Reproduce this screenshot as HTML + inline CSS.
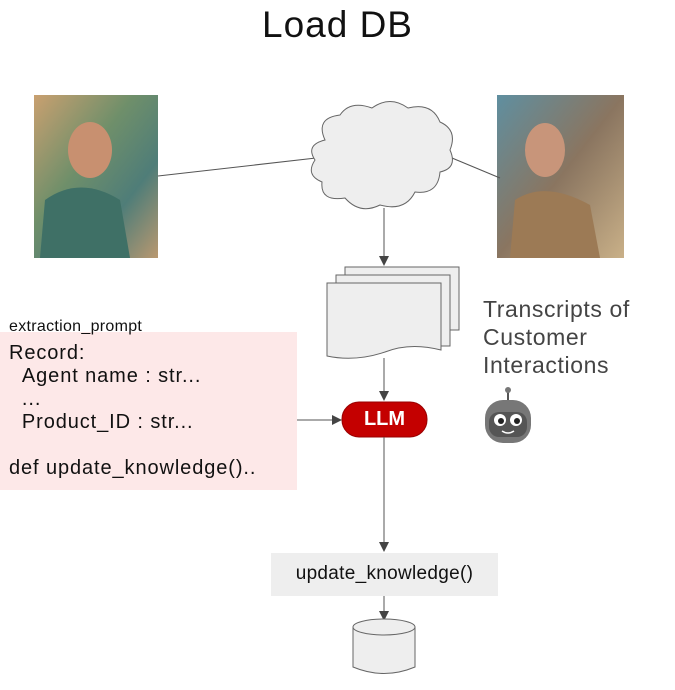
<!DOCTYPE html>
<html><head><style>
body{margin:0;width:675px;height:690px;background:#fff;font-family:"Liberation Sans",sans-serif;overflow:hidden;position:relative}
.t{position:absolute;white-space:nowrap;color:#222}
</style></head><body>
<svg width="675" height="690" style="position:absolute;left:0;top:0">
<defs>
<linearGradient id="lp" x1="0" y1="0" x2="1" y2="1"><stop offset="0" stop-color="#c9a070"/><stop offset="0.4" stop-color="#6f8f6a"/><stop offset="0.7" stop-color="#4f7d78"/><stop offset="1" stop-color="#b99870"/></linearGradient>
<linearGradient id="rp" x1="0" y1="0" x2="1" y2="1"><stop offset="0" stop-color="#5f8fa0"/><stop offset="0.5" stop-color="#8a7560"/><stop offset="1" stop-color="#c9b088"/></linearGradient>
<marker id="a" markerWidth="10" markerHeight="10" refX="9" refY="5" orient="auto" markerUnits="userSpaceOnUse"><path d="M0,0 L10,5 L0,10z" fill="#444"/></marker>
</defs>
<rect x="0" y="332" width="297" height="158" fill="#fde8e8"/>
<rect x="34" y="95" width="124" height="163" fill="url(#lp)"/>
<ellipse cx="90" cy="150" rx="22" ry="28" fill="#c89070"/>
<path d="M40 258 L45 200 Q80 175 120 200 L130 258z" fill="#3f7066"/>
<rect x="497" y="95" width="127" height="163" fill="url(#rp)"/>
<ellipse cx="545" cy="150" rx="20" ry="27" fill="#c8957a"/>
<path d="M510 258 L515 200 Q545 180 590 205 L600 258z" fill="#9c7a55"/>
<line x1="158" y1="176" x2="316" y2="158" stroke="#555" stroke-width="1"/>
<line x1="452" y1="158" x2="500" y2="178" stroke="#555" stroke-width="1"/>
<path d="M325 140 Q315 118 340 115 Q350 100 372 108 Q390 95 408 108 Q432 102 440 122 Q458 130 450 150 Q458 168 440 172 Q438 195 415 192 Q405 212 380 205 Q360 215 345 198 Q320 202 322 182 Q305 175 315 160 Q305 145 325 140z" fill="#eee" stroke="#666" stroke-width="1"/>
<line x1="384" y1="208" x2="384" y2="265" stroke="#555" marker-end="url(#a)"/>
<rect x="345" y="267" width="114" height="63" fill="#eee" stroke="#666"/>
<rect x="336" y="275" width="114" height="71" fill="#eee" stroke="#666"/>
<path d="M327 283 H441 V350 Q410 342 385 352 Q355 362 327 356z" fill="#eee" stroke="#666"/>
<line x1="384" y1="358" x2="384" y2="400" stroke="#555" marker-end="url(#a)"/>
<line x1="297" y1="420" x2="341" y2="420" stroke="#555" marker-end="url(#a)"/>
<rect x="342" y="402" width="85" height="35" rx="17" fill="#c40000" stroke="#900"/>
<line x1="384" y1="437" x2="384" y2="551" stroke="#555" marker-end="url(#a)"/>
<rect x="271" y="553" width="227" height="43" fill="#eee"/>
<line x1="384" y1="596" x2="384" y2="620" stroke="#555" marker-end="url(#a)"/>
<path d="M353 627 V667 Q384 680 415 667 V627" fill="#eee" stroke="#666"/>
<ellipse cx="384" cy="627" rx="31" ry="8" fill="#eee" stroke="#666"/>
<line x1="508" y1="392" x2="508" y2="400" stroke="#555" stroke-width="2"/>
<circle cx="508" cy="390" r="3" fill="#777"/>
<rect x="485" y="400" width="46" height="43" rx="18" fill="#777"/>
<rect x="489" y="412" width="38" height="25" rx="10" fill="#555"/>
<circle cx="500" cy="420" r="6" fill="#fff"/><circle cx="516" cy="420" r="6" fill="#fff"/>
<circle cx="501" cy="421" r="3" fill="#222"/><circle cx="517" cy="421" r="3" fill="#222"/>
<path d="M502 431 Q508 435 514 431" stroke="#fff" fill="none" stroke-width="1.5"/>
</svg>
<div class="t" style="left:0;width:675px;text-align:center;top:4px;font-size:37px;letter-spacing:1px;color:#111">Load DB</div>
<div class="t" style="left:483px;top:295px;font-size:23px;letter-spacing:0.6px;line-height:28px;color:#444">Transcripts of<br>Customer<br>Interactions</div>
<div class="t" style="left:9px;top:318px;font-size:16px;letter-spacing:0.3px;color:#111">extraction_prompt</div>
<div class="t" style="left:9px;top:342px;font-size:20px;letter-spacing:0.9px;line-height:23px;color:#111">Record:<br>&nbsp;&nbsp;Agent name : str...<br>&nbsp;&nbsp;...<br>&nbsp;&nbsp;Product_ID : str...<br><br>def update_knowledge()..</div>
<div class="t" style="left:342px;width:85px;text-align:center;top:408px;font-size:20px;font-weight:bold;color:#fff">LLM</div>
<div class="t" style="left:271px;width:227px;text-align:center;top:563px;font-size:19px;letter-spacing:0.3px;color:#111">update_knowledge()</div>
</body></html>
